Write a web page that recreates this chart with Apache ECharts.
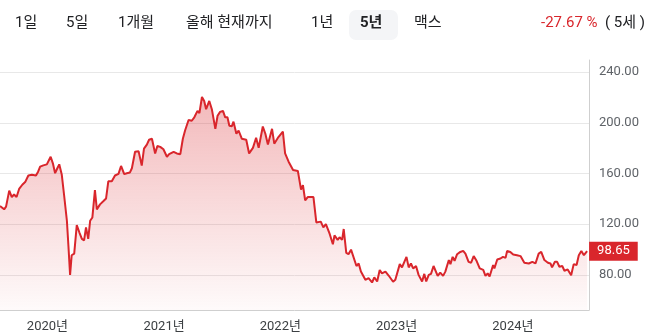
<!DOCTYPE html>
<html><head><meta charset="utf-8">
<script src="https://cdn.jsdelivr.net/npm/echarts@6/dist/echarts.min.js"></script>
<style>html,body{margin:0;padding:0;background:#fff}#c{width:650px;height:333px}</style>
</head><body><div id="c"></div>
<script>
// ---- data ----
const startDate = [2019, 7, 5]; // 2019-08-05, offsets below are days after it
const dayOffsets = [0,13,19,29,37,44,52,60,70,79,
89,100,113,120,126,136,147,152,159,166,
173,180,186,194,201,210,215,220,225,233,
241,249,257,264,270,277,283,290,298,304,
314,325,333,340,351,361,372,380,390,398,
408,414,424,435,440,445,452,461,468,477,
487,494,503,513,524,531,537,545,555,566,
574,581,592,602,610,620,626,634,641,647,
657,665,676,683,691,700,707,714,720,728,
733,742,749,759,773,782,794,804,812,825,
833,841,846,854,861,867,874,888,895,906,
920,935,945,951,958,966,984,993,1007,1015,
1023,1035,1045,1050,1060,1066,1074,1079,1087,1094,
1102,1108,1119,1126,1133,1147,1157,1168,1175,1184,
1192,1199,1210,1220,1234,1241,1255,1262,1267,1276,
1283,1290,1297,1306,1314,1325,1332,1338,1346,1353,
1361,1367,1374,1382,1391,1398,1409,1414,1421,1427,
1435,1445,1454,1461,1471,1479,1487,1496,1506,1517,
1524,1531,1537,1548,1552,1561,1571,1579,1587,1592,
1602,1611,1623,1634,1646,1660,1671,1681,1691,1699,
1709,1720,1728,1733,1742,1749,1756,1765,1772,1782,
1793,1801,1810,1817,1825,1833,1843];
const prices = [134.4,131.7,133.8,146.5,141.4,143.4,141.4,147.8,151.1,153.2,
158.4,158.9,158.4,161.6,165.4,166.4,167.2,166.7,173.2,168.0,
160.2,164.1,167.2,158.9,143.4,122.7,102.0,80.0,95.5,96.8,
119.3,113.6,108.4,107.2,117.5,108.4,122.7,125.3,146.8,131.7,
135.6,138.3,140.3,153.8,153.8,158.4,159.7,165.9,159.5,160.2,
160.8,164.1,177.1,177.6,178.3,166.2,179.6,182.8,186.6,187.4,
175.8,181.7,181.0,179.1,173.2,175.2,174.0,177.1,175.8,175.2,
187.4,193.9,202.2,201.6,204.3,209.4,207.6,220.3,217.2,210.7,
217.2,210.7,195.2,205.5,208.6,209.4,204.3,204.3,197.7,197.3,
200.9,191.3,193.9,187.4,186.6,175.8,180.2,188.2,180.2,197.0,
191.3,182.8,182.8,195.2,183.5,182.8,188.7,193.1,175.8,169.3,
162.8,162.0,147.3,150.7,138.7,141.4,141.4,121.4,122.0,117.5,
120.1,112.3,104.1,111.1,107.6,109.7,107.6,116.2,97.3,96.3,
99.9,98.9,87.0,89.0,82.6,76.1,77.4,74.0,78.1,74.8,
83.9,81.2,82.6,79.5,74.6,76.1,88.5,85.9,87.0,94.2,
85.9,89.0,85.1,87.0,80.0,74.8,80.8,74.8,80.0,80.8,
87.0,85.9,79.2,81.8,79.2,82.6,91.7,88.5,94.2,91.1,
96.3,98.1,98.9,96.8,90.3,89.6,94.8,91.1,85.1,83.9,
79.2,81.2,78.7,87.8,85.1,92.1,92.9,94.2,93.4,98.9,
98.1,96.0,95.5,94.8,89.6,89.0,90.3,89.0,96.8,98.1,
91.7,89.6,89.0,85.9,90.3,90.3,86.4,87.0,83.3,84.3,
79.7,88.5,87.8,95.5,98.9,95.5,98.65];
const yTicks = [80, 120, 160, 200, 240];
const tabs = ['1일', '5일', '1개월', '올해 현재까지', '1년', '5년', '맥스'];
const activeTab = '5년';
const changeText = '-27.67 %';
const periodText = '( 5세 )';

// ---- build ----
const FONT = 'Roboto, "Noto Sans CJK KR", "Noto Sans", sans-serif';
const RED = '#d9262c';
const seriesData = dayOffsets.map((d, i) =>
  [new Date(startDate[0], startDate[1], startDate[2] + d).getTime(), prices[i]]);

const tabX = [15, 66, 118, 186, 311, 360, 414];
const graphics = [];
tabs.forEach((t, i) => {
  if (t === activeTab) {
    graphics.push({type: 'rect', left: tabX[i] - 11, top: 10, shape: {width: 49, height: 30, r: 7},
      style: {fill: '#f4f5f7'}, silent: true});
  }
  graphics.push({type: 'text', left: tabX[i], top: 16, silent: true,
    style: {text: t, font: (t === activeTab ? 'bold ' : '') + '15px ' + FONT, fill: '#202124'}});
});
graphics.push({type: 'text', right: 5, top: 16, silent: true,
  style: {text: '{r|' + changeText + '}{k|  ' + periodText + '}',
    rich: {r: {font: '15px ' + FONT, fill: RED}, k: {font: '15px ' + FONT, fill: '#202124'}}}});

const chart = echarts.init(document.getElementById('c'), null, {renderer: 'canvas'});
chart.setOption({
  animation: false,
  grid: {left: 0, right: 61, top: 60, bottom: 19, containLabel: false},
  graphic: graphics,
  xAxis: {
    type: 'time',
    min: 'dataMin',
    max: v => v.max + 6 * 86400000,
    splitNumber: 5,
    axisLine: {show: true, lineStyle: {color: '#cfcfcf', width: 1}},
    axisTick: {show: false},
    splitLine: {show: false},
    axisLabel: {
      margin: 10, fontSize: 13, color: '#3c4043', fontFamily: FONT,
      showMinLabel: false, showMaxLabel: false, hideOverlap: false,
      formatter: v => { const d = new Date(v); return (d.getMonth() === 0 && d.getDate() === 1) ? d.getFullYear() + '년' : ''; }
    }
  },
  yAxis: {
    type: 'value', position: 'right', min: 52.3, max: 249.5,
    axisLine: {show: true, lineStyle: {color: '#cfcfcf', width: 1}},
    axisTick: {show: false, customValues: yTicks},
    splitLine: {show: true, lineStyle: {color: '#e8e8e8', width: 1}},
    axisLabel: {customValues: yTicks, margin: 10, fontSize: 13, color: '#5f6368', fontFamily: FONT,
      formatter: v => v.toFixed(2)}
  },
  series: [{
    type: 'line', data: seriesData, showSymbol: false, symbol: 'none',
    lineStyle: {color: RED, width: 2},
    itemStyle: {color: RED},
    areaStyle: {origin: 'start', color: new echarts.graphic.LinearGradient(0, 0, 0, 1, [
      {offset: 0, color: 'rgba(217,38,44,0.46)'},
      {offset: 1, color: 'rgba(217,38,44,0.03)'}])},
    endLabel: {show: true, formatter: p => p.value[1].toFixed(2), color: '#fff', backgroundColor: RED,
      padding: [3, 8, 3, 8], fontSize: 13, lineHeight: 13, fontFamily: FONT, distance: 2},
    silent: true
  }]
});
</script></body></html>
